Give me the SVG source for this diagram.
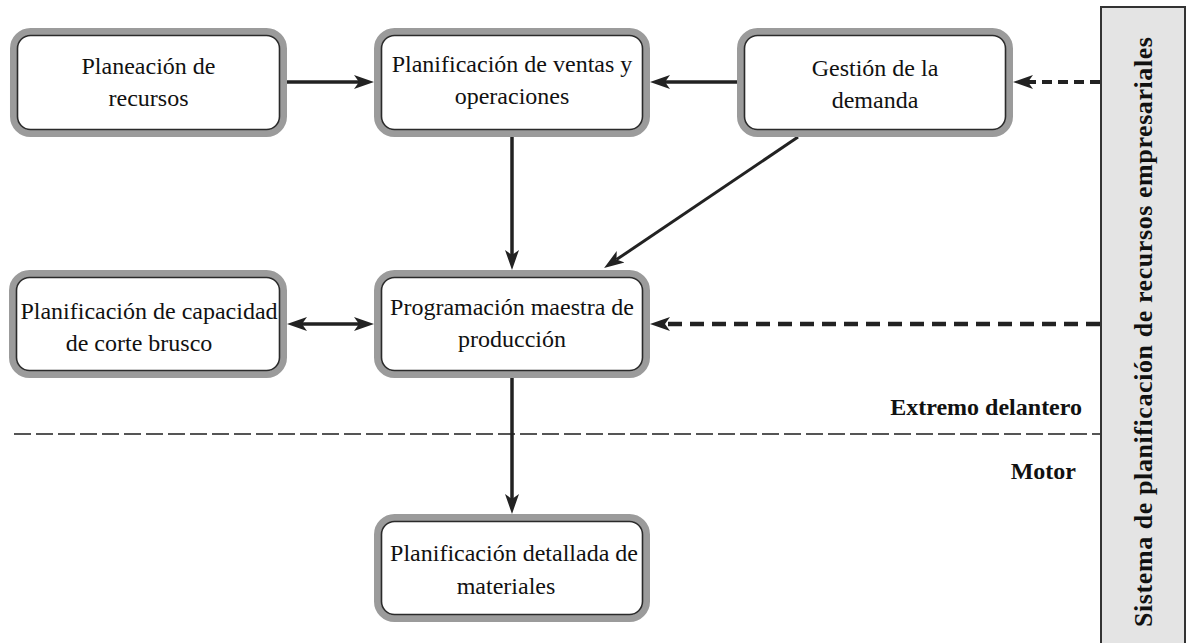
<svg xmlns="http://www.w3.org/2000/svg" width="1187" height="643" viewBox="0 0 1187 643">
<style>
.outer{fill:none;stroke:#9b9b9b;stroke-width:7}
.inner{fill:#fff;stroke:#2a2a2a;stroke-width:1.6}
.lbl{font-family:'Liberation Serif','Times New Roman',Times,'DejaVu Serif',serif;font-size:24px;font-weight:normal;fill:#111;text-anchor:middle}
.bold{font-family:'Liberation Serif','Times New Roman',Times,'DejaVu Serif',serif;font-size:24px;font-weight:bold;fill:#111}
.solid{fill:none;stroke:#222;stroke-width:3.5}
.dash{fill:none;stroke:#222;stroke-width:4.5;stroke-dasharray:12 6}
</style>
<defs>
<marker id="ah" markerUnits="userSpaceOnUse" markerWidth="22" markerHeight="16" viewBox="0 0 22 16" refX="5" refY="8" orient="auto-start-reverse">
<path d="M0,1 L20,8 L0,15 L5,8 Z" fill="#222"/>
</marker>
</defs>
<rect x="1101" y="7" width="84" height="645" fill="#e4e4e4" stroke="#333" stroke-width="2"/>
<text class="bold" style="font-size:26px" text-anchor="middle" transform="translate(1152,332) rotate(-90)" textLength="590" lengthAdjust="spacing">Sistema de planificación de recursos empresariales</text>
<line x1="14" y1="434" x2="1100" y2="434" stroke="#555" stroke-width="2" stroke-dasharray="17 5"/>
<text class="bold" x="1082" y="415" text-anchor="end">Extremo delantero</text>
<text class="bold" x="1076" y="479" text-anchor="end">Motor</text>
<g id="connectors">
<line class="solid" x1="287" y1="82" x2="359" y2="82" marker-end="url(#ah)"/>
<line class="solid" x1="737" y1="82" x2="665" y2="82" marker-end="url(#ah)"/>
<line class="dash" x1="1100" y1="82" x2="1028" y2="82" marker-end="url(#ah)" style="stroke-width:4;stroke-dasharray:10 6"/>
<line class="solid" x1="512" y1="137" x2="512" y2="255" marker-end="url(#ah)"/>
<line class="solid" x1="798" y1="137" x2="616.5" y2="259.6" marker-end="url(#ah)" style="stroke-width:3"/>
<line class="solid" x1="302" y1="324" x2="359" y2="324" marker-start="url(#ah)" marker-end="url(#ah)"/>
<line class="dash" x1="1100" y1="324" x2="665" y2="324" marker-end="url(#ah)" style="stroke-dasharray:14 8"/>
<line class="solid" x1="512" y1="378" x2="512" y2="499" marker-end="url(#ah)"/>
</g>
<g id="n1">
<rect class="outer" x="13.5" y="31.5" width="270" height="102" rx="17"/>
<rect class="inner" x="17.5" y="35.5" width="262" height="94" rx="13"/>
<text class="lbl" x="148.5" y="74">Planeación de</text>
<text class="lbl" x="148.5" y="106">recursos</text>
</g>
<g id="n2">
<rect class="outer" x="377.5" y="31.5" width="269" height="102" rx="17"/>
<rect class="inner" x="381.5" y="35.5" width="261" height="94" rx="13"/>
<text class="lbl" x="512" y="72">Planificación de ventas y</text>
<text class="lbl" x="512" y="104">operaciones</text>
</g>
<g id="n3">
<rect class="outer" x="740.5" y="31.5" width="269" height="102" rx="17"/>
<rect class="inner" x="744.5" y="35.5" width="261" height="94" rx="13"/>
<text class="lbl" x="875" y="76">Gestión de la</text>
<text class="lbl" x="875" y="108">demanda</text>
</g>
<g id="n4">
<rect class="outer" x="12.5" y="273.5" width="271" height="101" rx="17"/>
<rect class="inner" x="16.5" y="277.5" width="263" height="93" rx="13"/>
<text class="lbl" x="149" y="319">Planificación de capacidad</text>
<text class="lbl" x="139" y="351">de corte brusco</text>
</g>
<g id="n5">
<rect class="outer" x="377.5" y="273.5" width="269" height="101" rx="17"/>
<rect class="inner" x="381.5" y="277.5" width="261" height="93" rx="13"/>
<text class="lbl" x="512" y="315">Programación maestra de</text>
<text class="lbl" x="512" y="347">producción</text>
</g>
<g id="n6">
<rect class="outer" x="377.5" y="517.5" width="269" height="101" rx="17"/>
<rect class="inner" x="381.5" y="521.5" width="261" height="93" rx="13"/>
<text class="lbl" x="514" y="561">Planificación detallada de</text>
<text class="lbl" x="506" y="594">materiales</text>
</g>
</svg>
